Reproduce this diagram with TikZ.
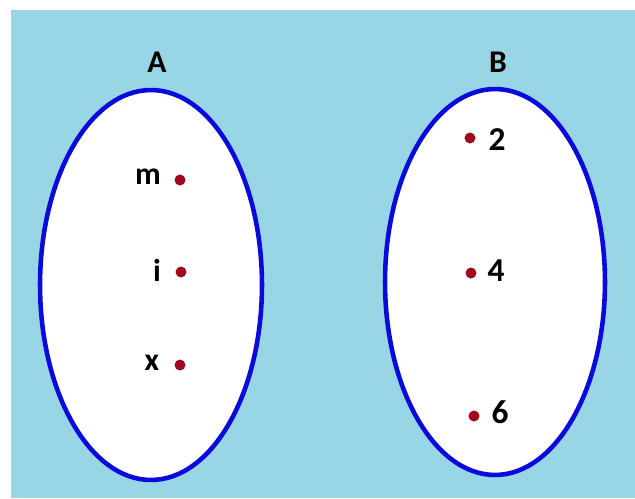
\documentclass[tikz,border=0pt]{standalone}
\usepackage{fontspec}
\setmainfont{Carlito}
\usepackage{tikz}
\usetikzlibrary{positioning,calc}
\definecolor{skyback}{RGB}{152,214,230}
\definecolor{setline}{RGB}{10,10,220}
\definecolor{dotred}{RGB}{160,10,30}

\begin{document}
\begin{tikzpicture}[x=0.02cm,y=-0.02cm]
			\fill[white] (0,0) rectangle (635,498);
			\fill[skyback] (11,10) rectangle (635,498);
			\useasboundingbox (0,0) rectangle (635,498);
			% the two sets
			\draw[setline, line width=2.6pt, fill=white] (151,285) ellipse (2.22cm and 3.9cm);
			\draw[setline, line width=2.6pt, fill=white] (495,282) ellipse (2.2cm and 3.86cm);
			\node[font=\fontsize{18}{21}\selectfont\bfseries] (setA) at (157,62) {A};
			\node[font=\fontsize{18}{21}\selectfont\bfseries] (setB) at (498,62) {B};
			% elements of A
			\fill[dotred] (180,180) circle (0.11cm);
			\node[font=\fontsize{18}{22}\selectfont\bfseries] (elm) at (148,177) {m};
			\fill[dotred] (181,272) circle (0.11cm);
			\node[font=\fontsize{18}{22}\selectfont\bfseries] (eli) at (157,270) {i};
			\fill[dotred] (180,365) circle (0.11cm);
			\node[font=\fontsize{18}{22}\selectfont\bfseries] (elx) at (152,363) {x};
			% elements of B
			\fill[dotred] (470,138) circle (0.11cm);
			\node[font=\fontsize{19}{23}\selectfont\bfseries] (el2) at (497,140) {2};
			\fill[dotred] (471,273) circle (0.11cm);
			\node[font=\fontsize{19}{23}\selectfont\bfseries] (el4) at (496,271) {4};
			\fill[dotred] (474,416) circle (0.11cm);
			\node[font=\fontsize{19}{23}\selectfont\bfseries] (el6) at (500,412) {6};
		\end{tikzpicture}
\end{document}
